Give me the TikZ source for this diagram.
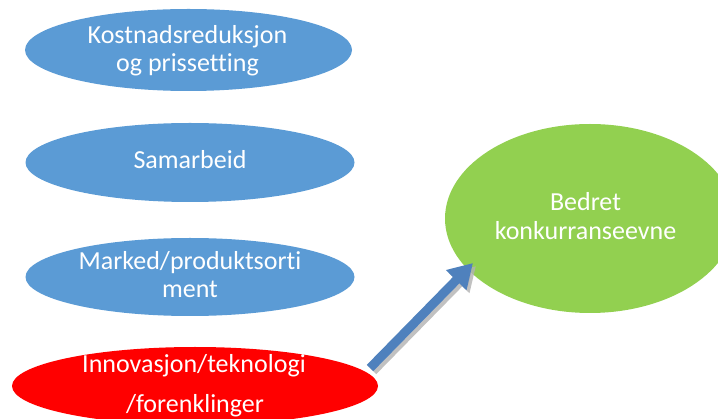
\documentclass[tikz,border=0pt]{standalone}
\usepackage{fontspec}
\setmainfont[Ligatures={NoCommon,NoContextual},RawFeature={-liga;-clig;-calt}]{Carlito}
\usetikzlibrary{shapes.geometric,arrows.meta}
\definecolor{eblue}{HTML}{5B9BD5}
\definecolor{ered}{HTML}{FF0000}
\definecolor{egreen}{HTML}{92D050}
\definecolor{arrblue}{HTML}{4F81BD}
\tikzset{
  oval/.style={ellipse, inner sep=0pt, draw=none},
  lbl/.style={anchor=base, text=white, inner sep=0pt, font=\fontsize{26pt}{29pt}\selectfont},
  bigarrow/.style={line width=9pt, -{Triangle[width=27pt,length=24pt]}}
}
\begin{document}
\begin{tikzpicture}[x=1pt,y=-1pt]
\useasboundingbox (0,0) rectangle (718,419);
\begin{scope}
\clip (0,0) rectangle (718,419);
\node[oval, fill=eblue, minimum width=327pt, minimum height=82pt] (e1) at (188.5,50) {};
\node[oval, fill=eblue, minimum width=329pt, minimum height=79pt] (e2) at (190,162.5) {};
\node[oval, fill=eblue, minimum width=329pt, minimum height=78pt] (e3) at (190,277) {};
\node[oval, fill=ered, minimum width=366pt, minimum height=78pt] (e4) at (195,386) {};
\node[oval, fill=egreen, minimum width=290pt, minimum height=189pt] (e5) at (590,218.5) {};

\node[lbl] (t1a) at (187.5,43.5) {Kostnadsreduksjon};
\node[lbl] (t1b) at (187.5,72) {og prisset{}ting};
\node[lbl] (t2) at (190,169) {Samarbeid};
\node[lbl] (t3a) at (190,270) {Marked/produktsorti};
\node[lbl] (t3b) at (190,298) {ment};
\node[lbl] (t4a) at (194,372.5) {Innovasjon/teknologi};
\node[lbl] (t4b) at (195,412.5) {/forenklinger};
\node[lbl] (t5a) at (585.5,210.5) {Bedret};
\node[lbl] (t5b) at (585.5,240) {konkurranseevne};

\coordinate (atail) at (370,368);
\coordinate (ahead) at (473,263);
\draw[bigarrow, draw=black!30, fill=black!30, opacity=0.8, transform canvas={shift={(3pt,-3pt)}}] (atail) -- (ahead);
\draw[bigarrow, draw=arrblue, fill=arrblue] (atail) -- (ahead);
\end{scope}
\end{tikzpicture}
\end{document}
